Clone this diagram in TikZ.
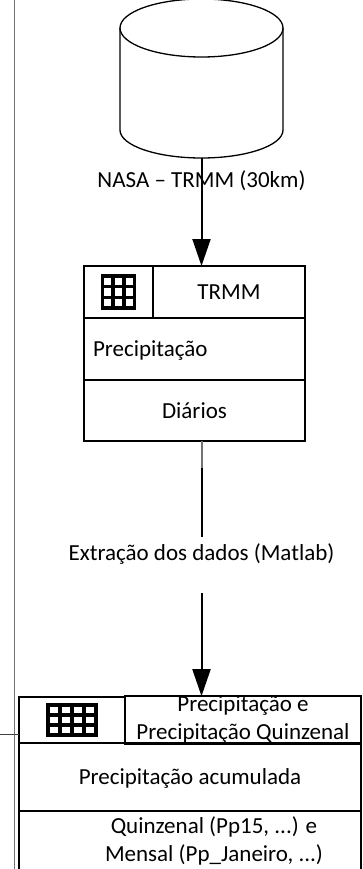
\documentclass[tikz,border=0pt]{standalone}
\usepackage{fontspec}
\setmainfont{Carlito}
\usepackage{tikz}
\usetikzlibrary{arrows.meta, positioning, calc}
\newcommand{\diagfont}{\fontsize{23}{28}\selectfont}
\tikzset{
    cellbox/.style={
        rectangle,
        draw=black,
        line width=2pt,
        inner sep=0pt,
        outer sep=0pt,
        align=center,
        font=\diagfont
    },
    celltext/.style={
        cellbox,
        text height=15pt,
        text depth=0pt
    },
    flowlabel/.style={
        inner sep=0pt,
        text height=15pt,
        text depth=0pt,
        font=\diagfont
    },
    cellnote/.style={
        inner sep=0pt,
        align=center,
        font=\diagfont
    },
    flowline/.style={
        draw=black,
        line width=2pt
    },
    flowarrow/.style={
        flowline,
        -{Triangle[length=27pt,width=18pt]}
    },
    dbline/.style={
        draw=black,
        line width=1.3pt
    },
    gridline/.style={
        draw=black,
        line width=3.6pt,
        line cap=rect
    },
    guideline/.style={
        draw=black!55,
        line width=1pt
    }
}
\begin{document}
\begin{tikzpicture}[x=1pt, y=1pt]
\useasboundingbox (0,0) rectangle (362,-869);
% Left rule
\coordinate (ruletop) at (14,0);
\coordinate (rulebot) at (14,-869);
\draw[guideline] (ruletop) -- (rulebot);

% Source (NASA)
\draw[dbline] (120,-28) -- (120,-130) arc[start angle=180, end angle=360, x radius=81.5, y radius=28] -- (283,-28);
\draw[dbline] (201.5,-28) ellipse[x radius=81.5, y radius=29];
\coordinate (nasa) at (201.5,-158);
\node[flowlabel, below=14pt of nasa] (nasalbl) {NASA – TRMM (30km)};

% TRMM table
\node[cellbox, minimum width=69pt, minimum height=52pt, anchor=north west] (trmmicon) at (84,-266) {};
\node[celltext, minimum width=152pt, minimum height=52pt, right=0pt of trmmicon] (trmmname) {TRMM};
\node[celltext, minimum width=221pt, minimum height=62pt, text width=203pt, inner xsep=9pt, align=left, below=0pt of trmmicon.south west, anchor=north west] (trmmvar) {Precipitação};
\node[celltext, minimum width=221pt, minimum height=61pt, below=0pt of trmmvar] (trmmper) {Diários};
\foreach \k in {0,...,3} {
    \draw[gridline] ($(trmmicon.center)+(-16+\k*32/3,-16)$) -- ++(0,32);
    \draw[gridline] ($(trmmicon.center)+(-16,-16+\k*32/3)$) -- ++(32,0);
}

\draw[flowarrow] (nasa) -- (nasa |- trmmname.north);

% Extraction
\node[flowlabel, text height=23pt, text depth=33pt, below=96pt of trmmper.south -| nasa] (extr) {Extração dos dados (Matlab)};
\coordinate[below=27pt of trmmper.south -| nasa] (extrbend);
\draw[flowline, draw=black!55] (trmmper.south -| nasa) -- (extrbend);
\draw[flowline] (extrbend) -- (extr.north);

% Accumulated table
\node[cellbox, minimum width=106pt, minimum height=46pt, anchor=north west] (q15icon) at (19,-697) {};
\node[cellbox, minimum width=236pt, minimum height=46pt, right=0pt of q15icon] (q15name) {Precipitação e\\Precipitação Quinzenal};
\node[celltext, minimum width=342pt, minimum height=68pt, below=0pt of q15icon.south west, anchor=north west] (q15var) {Precipitação acumulada};
\node[cellbox, minimum width=342pt, minimum height=80pt, below=0pt of q15var] (q15per) {};
\node[cellnote, below=5pt of q15per.north, xshift=24pt] (q15note) {Quinzenal (Pp15, ...) e\\Mensal (Pp\_Janeiro, ...)};
\foreach \k in {0,...,4}
    \draw[gridline] ($(q15icon.center)+(-24+\k*12,-15)$) -- ++(0,30);
\foreach \k in {0,...,3}
    \draw[gridline] ($(q15icon.center)+(-24,-15+\k*10)$) -- ++(48,0);

\draw[flowarrow] (extr.south) -- (extr.south |- q15name.north);

\coordinate (offleft) at (0,-734);
\draw[guideline, draw=black!75] (offleft) -- (offleft -| q15icon.west);
\end{tikzpicture}
\end{document}
